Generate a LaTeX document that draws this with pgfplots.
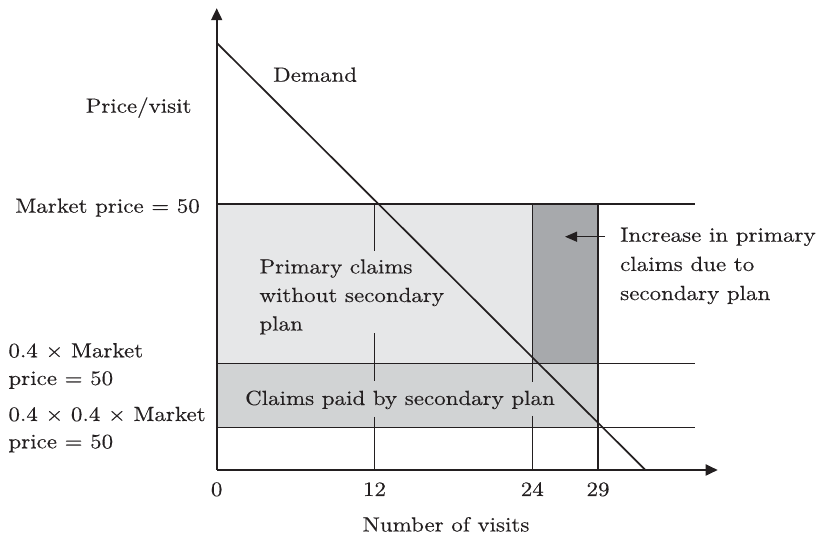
\documentclass[border=0pt]{standalone}
\usepackage{fontspec}
\setmainfont{lmroman10-regular.otf}[FakeStretch=1.12,FakeBold=0.3]
\usepackage{pgfplots}
\pgfplotsset{compat=1.18}
\usetikzlibrary{arrows.meta}
\definecolor{ink}{HTML}{231F20}
\definecolor{lightg}{HTML}{E6E7E8}
\definecolor{midg}{HTML}{D1D3D4}
\definecolor{darkg}{HTML}{A7A9AC}
\newcommand\f{\fontsize{20.5pt}{29pt}\selectfont}
\begin{document}
\begin{tikzpicture}
\begin{axis}[
  x=13.15pt, y=5.32pt,
  xmin=0, xmax=38.1, ymin=0, ymax=86.8,
  axis lines=left,
  axis on top,
  axis line style={ink, line width=1.8pt, -{Triangle[length=12pt,width=11pt]}},
  xtick={0,12,24,29}, xticklabels={0,12,24,29},
  ytick=\empty,
  major tick length=0pt,
  xticklabel style={font=\f, text=ink, anchor=base, inner sep=0pt, yshift=-26pt},
  clip=false,
  no markers,
]
% shaded areas
\addplot[fill=lightg, draw=none] coordinates {(0,20) (24,20) (24,50) (0,50) (0,20)};
\addplot[fill=darkg, draw=none] coordinates {(24,20) (29,20) (29,50) (24,50) (24,20)};
\addplot[fill=midg, draw=none] coordinates {(0,8) (29,8) (29,20) (0,20) (0,8)};
% price levels
\addplot[ink, line width=1.5pt] coordinates {(0,50) (36.4,50)};
\addplot[ink, line width=1.5pt] coordinates {(0,20) (36.4,20)};
\addplot[ink, line width=1.5pt] coordinates {(0,8) (36.4,8)};
% quantity markers
\addplot[ink, line width=1.5pt] coordinates {(29,0) (29,50)};
\addplot[ink, line width=1.5pt] coordinates {(12,50) (12,41.2)};
\addplot[ink, line width=1.5pt] coordinates {(12,25.7) (12,16.7)};
\addplot[ink, line width=1.5pt] coordinates {(12,10.0) (12,0)};
\addplot[ink, line width=1.5pt] coordinates {(24,50) (24,16.6)};
\addplot[ink, line width=1.5pt] coordinates {(24,10.15) (24,0)};
% demand
\addplot[ink, line width=1.7pt] coordinates {(0,80.3) (32.6,0)};
% annotation arrow
\draw[ink, line width=1.5pt, -{Triangle[length=12pt,width=10pt]}] (axis cs:29.53,43.85) -- (axis cs:26.49,43.85);
% texts
\begin{scope}[every node/.style={font=\f, text=ink, inner sep=0pt}]
\node[anchor=base east] at (axis cs:-1.901,67.16) {Price/visit};
\node[anchor=base east] at (axis cs:-1.270,48.36) {Market price = 50};
\node[anchor=base west] at (axis cs:-15.848,21.18) {0.4 × Market};
\node[anchor=base west] at (axis cs:-15.848,15.98) {price = 50};
\node[anchor=base west] at (axis cs:-15.848,9.21) {0.4 × 0.4 × Market};
\node[anchor=base west] at (axis cs:-15.848,4.08) {price = 50};
\node[anchor=base west] at (axis cs:4.281,72.99) {Demand};
\node[anchor=base west] at (axis cs:3.240,36.94) {Primary claims};
\node[anchor=base west] at (axis cs:3.240,31.58) {without secondary};
\node[anchor=base west] at (axis cs:3.240,26.22) {plan};
\node[anchor=base west] at (axis cs:2.152,12.22) {Claims paid by secondary plan};
\node[anchor=base west] at (axis cs:30.669,42.91) {Increase in primary};
\node[anchor=base west] at (axis cs:30.669,37.41) {claims due to};
\node[anchor=base west] at (axis cs:30.669,31.95) {secondary plan};
\node[anchor=base] at (axis cs:17.44,-11.56) {Number of visits};
\end{scope}
% page frame
\path (axis cs:-16.479,-12.594) rectangle (axis cs:45.954,88.346);
\end{axis}
\end{tikzpicture}
\end{document}
